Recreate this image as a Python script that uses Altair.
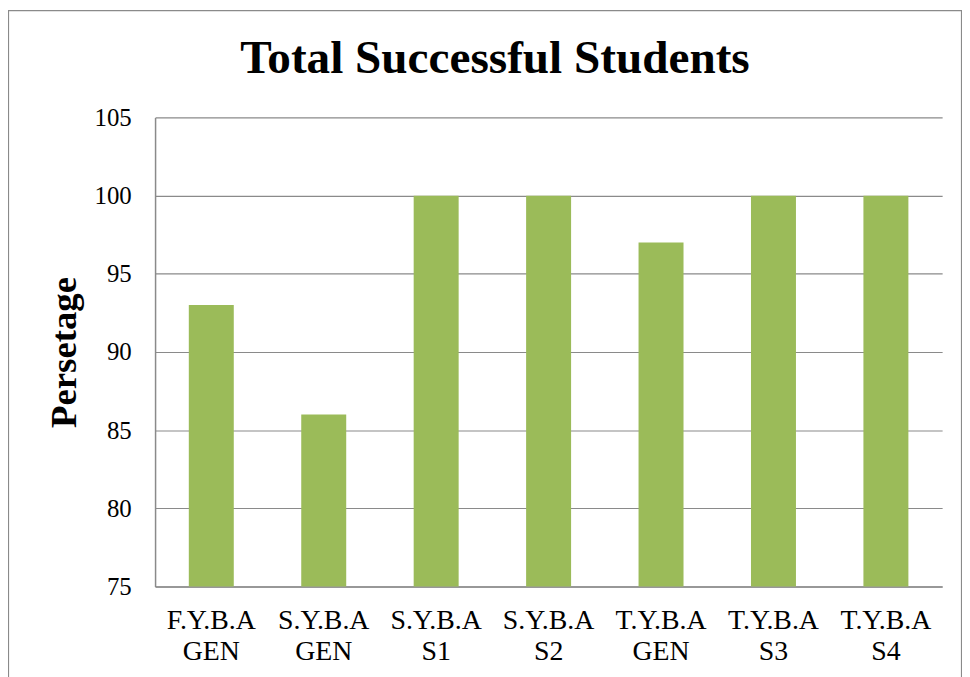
import altair as alt
import pandas as pd

categories = ["F.Y.B.A GEN", "S.Y.B.A GEN", "S.Y.B.A S1", "S.Y.B.A S2",
              "T.Y.B.A GEN", "T.Y.B.A S3", "T.Y.B.A S4"]
values = [93, 86, 100, 100, 97, 100, 100]
y_ticks = [75, 80, 85, 90, 95, 100, 105]

df = pd.DataFrame({"cat": categories, "val": values})

FONT = "Liberation Serif"
GRAY = "#8a8a8a"

bars = alt.Chart(df).mark_bar(color="#9BBB59").encode(
    x=alt.X("cat:N", sort=categories,
            scale=alt.Scale(paddingInner=0.6, paddingOuter=0.3),
            axis=alt.Axis(title=None, labelAngle=0, ticks=False,
                          labelExpr="split(datum.label, ' ')",
                          labelFont=FONT, labelFontSize=28, labelColor="black",
                          labelLineHeight=31, labelPadding=20,
                          domainColor=GRAY, domainWidth=1.5)),
    y=alt.Y("val:Q", scale=alt.Scale(domain=[75, 105], zero=False, nice=False),
            axis=alt.Axis(title="Persetage", values=y_ticks, ticks=False,
                          labelFont=FONT, labelFontSize=25, labelColor="black",
                          labelPadding=24,
                          titleFont=FONT, titleFontSize=37, titleFontWeight="bold",
                          titleColor="black", titlePadding=11,
                          grid=True, gridColor=GRAY, gridWidth=1.2,
                          domainColor=GRAY, domainWidth=1.5)),
    y2=alt.datum(75),
)

border = alt.Chart(pd.DataFrame({"a": [0]})).mark_rect(
    fillOpacity=0, stroke=GRAY, strokeWidth=1.2
).encode(
    x=alt.value(-147.5), x2=alt.value(811.5),
    y=alt.value(-107.5), y2=alt.value(575),
)

chart = alt.layer(bars, border).properties(
    width=792, height=472,
    title=alt.TitleParams("Total Successful Students", font=FONT, fontSize=47.5,
                          fontWeight="bold", color="black", anchor="middle",
                          baseline="alphabetic", offset=-111, dx=-54),
    autosize=alt.AutoSizeParams(type="none"),
    padding={"left": 148, "top": 108, "right": 20, "bottom": 100},
).configure_view(stroke=None)

chart.save("out.html", embed_options={"renderer": "svg", "actions": False})
